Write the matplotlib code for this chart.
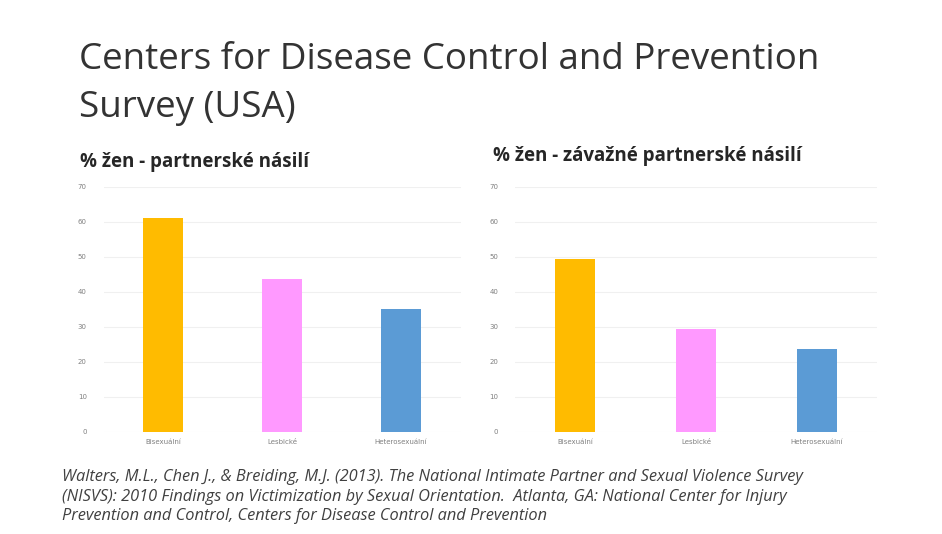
import matplotlib
matplotlib.use("Agg")
import matplotlib.pyplot as plt

categories_left = ["Bisexuální", "Lesbické", "Heterosexuální"]
values_left = [61.1, 43.8, 35.0]
categories_right = ["Bisexuální", "Lesbické", "Heterosexuální"]
values_right = [49.3, 29.4, 23.6]
yticks = [0, 10, 20, 30, 40, 50, 60, 70]
colors = ["#FFBB00", "#FF99FF", "#5B9BD5"]

W, H = 942, 534
fig = plt.figure(figsize=(W / 100, H / 100), dpi=100)
fig.patch.set_facecolor("white")

def px_axes(x0, x1, ytop, ybot):
    return fig.add_axes([x0 / W, 1 - ybot / H, (x1 - x0) / W, (ybot - ytop) / H])

def style(ax, cats, vals):
    ax.bar(range(len(cats)), vals, width=0.33, color=colors, zorder=3)
    ax.set_xlim(-0.5, 2.5)
    ax.set_ylim(0, 70)
    ax.set_yticks(yticks)
    ax.set_xticks(range(len(cats)))
    ax.set_xticklabels(cats)
    ax.tick_params(axis="both", length=0, labelsize=5, labelcolor="#808080")
    ax.tick_params(axis="y", pad=12)
    ax.tick_params(axis="x", pad=5)
    for s in ax.spines.values():
        s.set_visible(False)
    ax.grid(axis="y", color="#f0f0f0", linewidth=0.8, zorder=0)
    ax.set_axisbelow(True)

ax1 = px_axes(103.5, 460.5, 186.7, 432)
style(ax1, categories_left, values_left)
ax2 = px_axes(515, 877, 186.7, 432)
style(ax2, categories_right, values_right)

fig.text(79 / W, 1 - 42 / H, "Centers for Disease Control and Prevention\nSurvey (USA)",
         fontsize=26.5, family="Open Sans", color="#333333", va="top", ha="left",
         linespacing=1.45)
fig.text(80 / W, 1 - 162 / H, "% žen - partnerské násilí", fontsize=13.5,
         fontweight="bold", family="Open Sans", color="#262626", va="center")
fig.text(493 / W, 1 - 156 / H, "% žen - závažné partnerské násilí", fontsize=13.5,
         fontweight="bold", family="Open Sans", color="#262626", va="center")

cite = ("Walters, M.L., Chen J., & Breiding, M.J. (2013). The National Intimate Partner and Sexual Violence Survey\n"
        "(NISVS): 2010 Findings on Victimization by Sexual Orientation.  Atlanta, GA: National Center for Injury\n"
        "Prevention and Control, Centers for Disease Control and Prevention")
fig.text(62 / W, 1 - 469 / H, cite, fontsize=11.8, style="italic", family="Open Sans",
         color="#404040", va="top", ha="left", linespacing=1.3)

fig.savefig("out.png", dpi=100, facecolor="white")
